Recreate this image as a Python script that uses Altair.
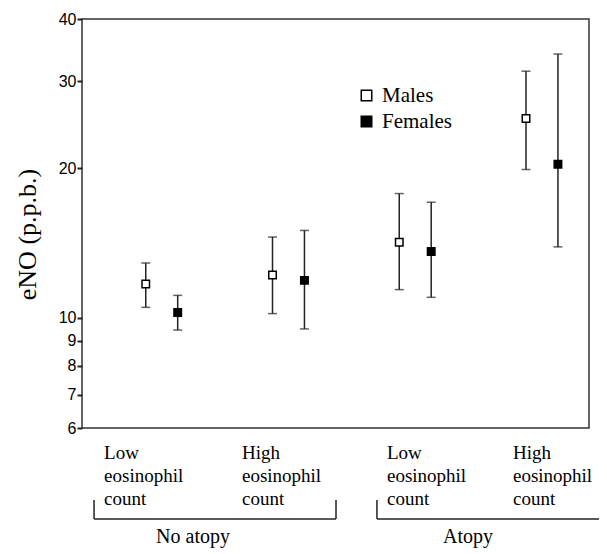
import altair as alt
import pandas as pd

# ---- data ----
category_lines = [["Low", "eosinophil", "count"],
                  ["High", "eosinophil", "count"],
                  ["Low", "eosinophil", "\u2002count"],
                  ["High", "eosinophil", "count"]]
atopy_of_category = ["No atopy", "No atopy", "Atopy", "Atopy"]
sexes = ["Males", "Females"]
male_mean = [11.7, 12.2, 14.2, 25.2]
male_low = [10.5, 10.2, 11.4, 19.9]
male_high = [12.9, 14.55, 17.8, 31.4]
female_mean = [10.25, 11.9, 13.6, 20.4]
female_low = [9.45, 9.5, 11.0, 13.9]
female_high = [11.1, 15.0, 17.1, 34.0]
y_ticks = [6, 7, 8, 9, 10, 20, 30, 40]
atopy_groups = ["No atopy", "Atopy"]

# ---- style constants (layout offsets, in x-scale units) ----
SEX_SHIFT = 0.126
CAT_LABEL_SHIFT = [-0.455, -0.367, -0.223, -0.229]
BR_PAD_L = [0.534, 0.302]
BR_PAD_R = [0.375, 1.0]
BR_LABEL_SHIFT = [-0.253, -0.084]
SERIF = "Liberation Serif"
SANS = "Liberation Sans"
INK = "#222222"

rows = []
for i in range(len(category_lines)):
    for sex, m, lo, hi in (("Males", male_mean[i], male_low[i], male_high[i]),
                           ("Females", female_mean[i], female_low[i], female_high[i])):
        rows.append({"group": i, "sex": sex, "mean": m, "low": lo, "high": hi})
df = pd.DataFrame(rows)

cat = pd.DataFrame({"group": list(range(len(category_lines))),
                    "lines": category_lines,
                    "shift": CAT_LABEL_SHIFT})

br_rows = []
for j, name in enumerate(atopy_groups):
    idx = [k for k, a in enumerate(atopy_of_category) if a == name]
    br_rows.append({"name": name, "start": min(idx), "end": max(idx),
                    "padl": BR_PAD_L[j], "padr": BR_PAD_R[j], "shift": BR_LABEL_SHIFT[j]})
br = pd.DataFrame(br_rows)

xscale = alt.Scale(domain=[-0.629, 3.371], nice=False, zero=False)
yscale = alt.Scale(type="log", domain=[6, 40], nice=False)

yaxis = alt.Axis(values=y_ticks, format="d", title="eNO (p.p.b.)", titleFont=SERIF,
                 titleFontSize=26, titleFontWeight="normal", titleColor="black",
                 titlePadding=18, titleY=215, labelFont=SANS, labelFontSize=16,
                 labelColor="black", labelPadding=1, tickSize=5, tickWidth=2,
                 tickColor=INK, domain=False, grid=False, labelOverlap=False)

base = alt.Chart(df).transform_calculate(
    xpos=f"datum.group + (datum.sex === 'Males' ? -{SEX_SHIFT} : {SEX_SHIFT})"
)

bars = base.mark_errorbar(ticks=True, size=9, thickness=1.5, color=INK).encode(
    x=alt.X("xpos:Q", scale=xscale, axis=None),
    y=alt.Y("low:Q", scale=yscale, axis=yaxis),
    y2="high:Q",
)

points = base.mark_point(shape="square", filled=True, size=56, stroke="black",
                         strokeWidth=1.5, opacity=1).encode(
    x=alt.X("xpos:Q", scale=xscale, axis=None),
    y=alt.Y("mean:Q", scale=yscale, axis=yaxis),
    fill=alt.Fill("sex:N", scale=alt.Scale(domain=sexes, range=["white", "black"]),
                  legend=alt.Legend(title=None, orient="none", legendX=274, legendY=66,
                                    symbolType="square", symbolSize=110,
                                    symbolStrokeColor="black", symbolStrokeWidth=1.5,
                                    labelFont=SERIF, labelFontSize=21, labelColor="black",
                                    labelOffset=5, rowPadding=4)),
)

cat_text = alt.Chart(cat).transform_calculate(
    xl="datum.group + datum.shift"
).mark_text(font=SERIF, fontSize=19, color="black", align="left", baseline="top",
            lineHeight=23).encode(
    x=alt.X("xl:Q", scale=xscale, axis=None), y=alt.value(425), text="lines")

bb = alt.Chart(br).transform_calculate(
    x1="datum.start - datum.padl",
    x2="datum.end + datum.padr",
    xm="(datum.start + datum.end) / 2 + datum.shift",
)

hline = bb.mark_rule(color=INK, strokeWidth=1.5).encode(
    x=alt.X("x1:Q", scale=xscale, axis=None), x2="x2:Q", y=alt.value(500))
vleft = bb.mark_rule(color=INK, strokeWidth=1.5).encode(
    x=alt.X("x1:Q", scale=xscale, axis=None), y=alt.value(481), y2=alt.value(500))
vright = bb.mark_rule(color=INK, strokeWidth=1.5).encode(
    x=alt.X("x2:Q", scale=xscale, axis=None), y=alt.value(481), y2=alt.value(500))
glabels = bb.mark_text(font=SERIF, fontSize=20, color="black", align="center",
                       baseline="alphabetic").encode(
    x=alt.X("xm:Q", scale=xscale, axis=None), y=alt.value(524), text="name:N")

chart = alt.layer(bars, points, cat_text, hline, vleft, vright, glabels).properties(
    width=507, height=409,
    autosize=alt.AutoSizeParams(type="none"),
    padding={"left": 74, "top": 11, "right": 10, "bottom": 121},
    background="white",
).configure_view(stroke="#333333", strokeWidth=1.5)

chart.save("out.html", embed_options={"renderer": "svg", "actions": False})
